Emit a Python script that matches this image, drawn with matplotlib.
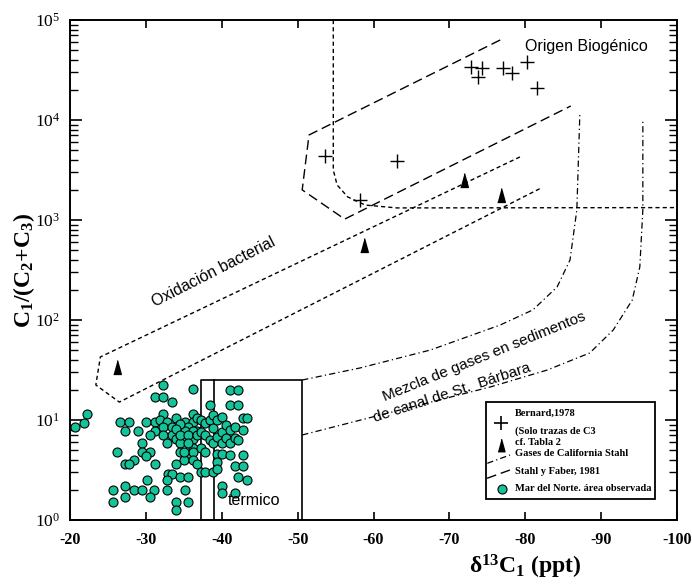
import matplotlib
matplotlib.use("Agg")
import matplotlib.pyplot as plt
from matplotlib.patches import Rectangle

plt.rcParams['font.family'] = 'Liberation Serif'
plt.rcParams['mathtext.fontset'] = 'custom'
plt.rcParams['mathtext.rm'] = 'Liberation Serif'
plt.rcParams['mathtext.bf'] = 'Liberation Serif:bold'
plt.rcParams['mathtext.it'] = 'Liberation Serif:italic'
plt.rcParams['axes.unicode_minus'] = False

# Bernard, 1978 (+)
bern_x = [-72.9, -74.3, -73.8, -77.1, -78.3, -80.2, -81.6, -53.6, -63.1, -58.2]
bern_y = [34100, 32900, 27100, 32900, 29300, 37800, 20700, 4370, 3890, 1590]

# cf. Tabla 2 (triangles)
tab_x = [-71.9, -76.8, -58.8, -26.2]
tab_y = [2510, 1780, 562, 34]

# Mar del Norte, area observada
mar_x = [-20.6, -21.8, -22.3, -32.3, -36.2, -31.2, -32.3, -33.4, -32.3, -36.2,
         -26.6, -27.8, -30.0, -31.2, -31.9, -32.8, -34.0, -35.1, -36.2, -36.7,
         -27.3, -28.9, -31.2, -32.3, -33.4, -34.5, -35.6, -36.7, -33.4, -35.1,
         -36.2, -30.6, -32.3, -34.0, -35.1, -36.2, -29.5, -32.8, -34.5, -36.2,
         -26.2, -29.5, -30.6, -34.5, -35.6, -36.2, -35.0, -28.4, -27.3, -27.8,
         -30.0, -31.2, -34.0, -36.2, -36.7, -32.9, -33.4, -34.5, -35.6, -30.1,
         -32.8, -27.3, -25.6, -28.4, -29.5, -31.1, -32.8, -35.1, -27.3, -30.6,
         -25.6, -34.0, -35.6, -34.0, -34.5, -34.0, -34.5, -35.6, -36.7, -35.6,
         -35.0,
         -37.2, -37.2, -37.2, -37.2, -37.8, -37.8, -37.8, -37.8, -38.4, -38.4,
         -38.4, -38.9, -38.9, -38.9, -38.9, -39.4, -39.4, -39.4, -39.4, -39.4,
         -40.0, -40.0, -40.0, -40.0, -40.0, -40.0, -40.5, -40.5, -41.1, -41.1,
         -41.1, -41.1, -41.1, -41.7, -41.7, -41.7, -41.7, -42.1, -42.2, -42.2,
         -42.2, -42.8, -42.8, -42.8, -42.8, -43.3, -43.3]
mar_y = [8.6, 9.4, 11.5, 22.4, 20.4, 17.1, 17.1, 15.3, 11.5, 11.5,
         9.5, 9.5, 9.5, 9.5, 10.0, 9.5, 10.4, 9.5, 9.5, 10.4,
         7.8, 7.8, 7.8, 8.6, 8.6, 8.6, 8.6, 7.8, 7.1, 7.8,
         7.8, 7.1, 7.1, 6.5, 6.5, 6.5, 5.9, 5.9, 5.9, 5.3,
         4.8, 4.8, 4.8, 4.8, 4.4, 4.8, 4.0, 4.0, 3.6, 3.6,
         4.4, 3.6, 3.6, 4.0, 3.6, 2.9, 2.9, 2.7, 2.7, 2.5,
         2.5, 2.2, 2.0, 2.0, 2.0, 2.0, 2.0, 2.0, 1.7, 1.7,
         1.5, 1.5, 1.5, 1.26, 9.2, 8.2, 7.1, 7.1, 7.1, 5.9,
         4.8,
         10.0, 7.6, 5.2, 3.0, 9.3, 7.1, 4.8, 3.0, 14.1, 10.0,
         6.3, 11.2, 8.3, 5.9, 3.0, 10.0, 6.8, 4.6, 3.8, 3.2,
         10.8, 7.6, 5.9, 4.6, 2.2, 1.85, 8.9, 6.6, 20.0, 14.1,
         7.9, 5.9, 4.5, 8.6, 6.6, 3.5, 1.85, 20.0, 14.1, 6.3,
         2.7, 10.4, 7.9, 4.5, 3.5, 10.4, 2.5]

# Origen biogenico (long dashes)
bio_x = [-76.7, -51.5, -50.6, -56.2, -86.0]
bio_y = [63100, 7080, 2000, 1020, 13800]

# Oxidacion bacterial (short dashes)
oxi_x = [-79.3, -24.0, -23.4, -26.5, -82.1]
oxi_y = [4270, 42.7, 22.4, 15.1, 2090]

# Bernard limit curve (short dashes)
lim_x = [-54.7, -54.7, -55.2, -56.6, -58.9, -63.1, -100.0]
lim_y = [100000, 3160, 2240, 1700, 1410, 1320, 1330]

# Gases de California, Stahl (dash-dot)
cal1_x = [-50.6, -58.2, -67.5, -76.7, -81.0, -84.2, -85.9, -86.8, -87.2]
cal1_y = [25.1, 33.1, 50.1, 89.1, 126, 214, 398, 1260, 11700]
cal2_x = [-50.6, -63.5, -75.4, -82.9, -88.5, -91.6, -94.1, -95.1, -95.5, -95.5]
cal2_y = [7.08, 12.6, 21.4, 31.6, 46.8, 79.4, 158, 339, 1260, 9770]

# termico box
box_x = [-37.3, -37.3, -50.6, -50.6]
box_y = [1, 25.1, 25.1, 1]
box_inner_x = [-39.0, -39.0]
box_inner_y = [1, 25.1]

x_ticks = [-20, -30, -40, -50, -60, -70, -80, -90, -100]

fig, ax = plt.subplots(figsize=(6.92, 5.84), dpi=100)
fig.subplots_adjust(left=0.1012, right=0.9783, bottom=0.1096, top=0.9658)

long_dash = (0, (7, 3.5))
short_dash = (0, (3, 2.2))
dash_dot = (0, (5, 2.5, 1, 2.5))

ax.plot(bio_x, bio_y, color='black', lw=1, linestyle=long_dash)
ax.plot(oxi_x, oxi_y, color='black', lw=1, linestyle=short_dash)
ax.plot(lim_x, lim_y, color='black', lw=1, linestyle=short_dash)
ax.plot(cal1_x, cal1_y, color='black', lw=0.9, linestyle=dash_dot)
ax.plot(cal2_x, cal2_y, color='black', lw=0.9, linestyle=dash_dot)
ax.plot(box_x, box_y, color='black', lw=1.2)
ax.plot(box_inner_x, box_inner_y, color='black', lw=1.2)

tri = [(-0.55, -1), (0.55, -1), (0, 1)]
ax.plot(mar_x, mar_y, 'o', ms=6.5, mfc='#14c39a', mec='black', mew=0.8)
ax.plot(bern_x, bern_y, '+', ms=10, color='black', mew=1)
ax.plot(tab_x, tab_y, marker=tri, ls='none', ms=10, color='black')

ax.set_yscale('log')
ax.set_xlim(-20, -100)
ax.set_ylim(1, 1e5)
ax.set_xticks(x_ticks)
ax.set_xticklabels([str(t) for t in x_ticks], fontweight='bold')
ax.tick_params(axis='x', which='both', direction='in', top=True, bottom=True,
               length=6, width=1.2, labelsize=11.5, pad=9)
ax.tick_params(axis='y', which='major', direction='in', left=True, right=True,
               length=8.5, width=1.2, labelsize=12.5, pad=7)
ax.tick_params(axis='y', which='minor', direction='in', left=True, right=True,
               length=6, width=1.0)
for s in ax.spines.values():
    s.set_linewidth(1.4)

ax.set_ylabel('C$_\\mathbf{1}$/(C$_\\mathbf{2}$+C$_\\mathbf{3}$)',
              fontsize=17, fontweight='bold')
ax.yaxis.set_label_coords(-0.054, 0.498)
ax.set_xlabel('δ$^\\mathbf{13}$C$_\\mathbf{1}$ (ppt)', fontsize=17, fontweight='bold')
ax.xaxis.set_label_coords(0.75, -0.066)

sans = 'Liberation Sans'
ax.text(-88.0, 53700, 'Origen Biogénico', family=sans, fontsize=11.5,
        ha='center', va='center')
ax.text(-38.9, 302, 'Oxidación bacterial', family=sans, fontsize=11.5,
        ha='center', va='center', rotation=27, rotation_mode='anchor')
ax.text(-74.6, 42.5, 'Mezcla de gases en sedimentos', family=sans, fontsize=11,
        ha='center', va='center', rotation=22, rotation_mode='anchor')
ax.text(-70.4, 18.6, 'de canal de St.  Bárbara', family=sans, fontsize=11,
        ha='center', va='center', rotation=18, rotation_mode='anchor')
ax.text(-44.2, 1.58, 'termico', family=sans, fontsize=11.5,
        ha='center', va='center')

# legend box
ax.add_patch(Rectangle((0.685, 0.042), 0.279, 0.194, transform=ax.transAxes,
                       fill=False, lw=1.3, ec='black', zorder=5))
lkw = dict(transform=ax.transAxes, fontsize=7.5, fontweight='bold',
           ha='left', va='center', zorder=6)
ax.text(0.733, 0.2134, 'Bernard,1978', **lkw)
ax.text(0.733, 0.178, '(Solo trazas de C3', **lkw)
ax.text(0.733, 0.1546, 'cf. Tabla 2', **lkw)
ax.text(0.733, 0.1334, 'Gases de California Stahl', **lkw)
ax.text(0.733, 0.0966, 'Stahl y Faber, 1981', **lkw)
ax.text(0.733, 0.0634, 'Mar del Norte. área observada', **lkw)
ax.plot([0.7096], [0.1934], '+', ms=10, color='black', mew=1.2,
        transform=ax.transAxes, zorder=6)
ax.plot([0.7096], [0.15], marker=tri, ms=9, color='black',
        transform=ax.transAxes, zorder=6)
ax.plot([0.6875, 0.7249], [0.1134, 0.13], color='black', lw=0.9,
        linestyle=dash_dot, transform=ax.transAxes, zorder=6)
ax.plot([0.687, 0.7249], [0.0834, 0.1], color='black', lw=1,
        linestyle=long_dash, transform=ax.transAxes, zorder=6)
ax.plot([0.7112], [0.0614], 'o', ms=6.5, mfc='#14c39a', mec='black', mew=0.8,
        transform=ax.transAxes, zorder=6)

fig.savefig('out.png', dpi=100)
